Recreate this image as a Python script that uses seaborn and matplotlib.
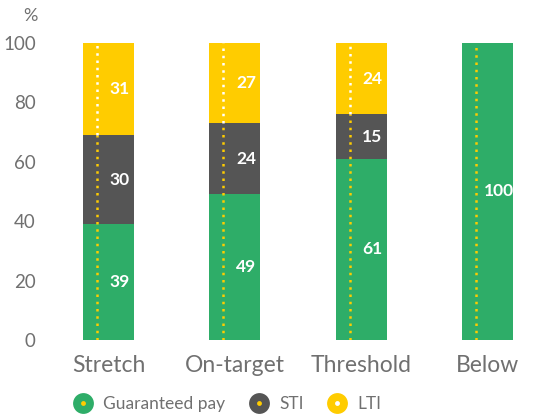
import matplotlib
matplotlib.use("Agg")
import matplotlib.pyplot as plt
from matplotlib.lines import Line2D
from matplotlib.legend_handler import HandlerTuple
import seaborn as sns
import numpy as np

categories = ["Stretch", "On-target", "Threshold", "Below"]
guaranteed = [39, 49, 61, 100]
sti = [30, 24, 15, 0]
lti = [31, 27, 24, 0]
yticks = [0, 20, 40, 60, 80, 100]

GREEN = "#2EAD68"
GREY = "#555555"
YELLOW = "#FFCC00"
TEXT = "#707070"

sns.set_theme(style="white")
plt.rcParams["font.family"] = ["Lato", "DejaVu Sans"]

fig = plt.figure(figsize=(5.33, 4.16), dpi=100)
ax = fig.add_axes([45.5 / 533, (416 - 340) / 416, 505 / 533, (340 - 43) / 416])

g = np.array(guaranteed, float)
s = np.array(sti, float)
l = np.array(lti, float)

sns.barplot(x=categories, y=g, color=GREEN, width=0.405, ax=ax, saturation=1, linewidth=0)
sns.barplot(x=categories, y=s, bottom=g, color=GREY, width=0.405, ax=ax, saturation=1, linewidth=0)
sns.barplot(x=categories, y=l, bottom=g + s, color=YELLOW, width=0.405, ax=ax, saturation=1, linewidth=0)

for i in range(len(categories)):
    xd = i - 0.092
    top_ys = g[i] + s[i]
    ax.plot([xd, xd], [0, top_ys], color=YELLOW, lw=1.8, linestyle=(0, (1.0, 1.9)), dash_capstyle="butt", zorder=5)
    if l[i] > 0:
        ax.plot([xd, xd], [top_ys, top_ys + l[i]], color="white", lw=1.8, linestyle=(0, (1.0, 1.9)), dash_capstyle="butt", zorder=5)
    xl = i + 0.09
    for bottom, val in [(0, g[i]), (g[i], s[i]), (g[i] + s[i], l[i])]:
        if val > 0:
            ax.text(xl, bottom + val / 2, f"{int(val)}", color="white", ha="center", va="center",
                    fontsize=12.5, fontweight="bold", zorder=6)

ax.set_xlim(-0.5, 3.5)
ax.set_ylim(0, 100)
ax.set_yticks(yticks)
ax.set_yticklabels([str(t) for t in yticks])
for sp in ax.spines.values():
    sp.set_visible(False)
ax.tick_params(axis="y", length=0, pad=7, labelsize=13.5, labelcolor=TEXT)
ax.tick_params(axis="x", length=0, pad=11, labelsize=16.5, labelcolor=TEXT)
ax.text(-0.015, 1.09, "%", transform=ax.transAxes, ha="right", va="center", fontsize=13, color=TEXT)
ax.set_ylabel("")
ax.set_xlabel("")

handles = []
for c, dot in [(GREEN, YELLOW), (GREY, YELLOW), (YELLOW, "white")]:
    big = Line2D([], [], marker="o", linestyle="none", markersize=15, markerfacecolor=c, markeredgewidth=0)
    small = Line2D([], [], marker="o", linestyle="none", markersize=3.5, markerfacecolor=dot, markeredgewidth=0)
    handles.append((big, small))
leg = fig.legend(handles, ["Guaranteed pay", "STI", "LTI"], handler_map={tuple: HandlerTuple(ndivide=1, pad=0)},
                 loc="center left", bbox_to_anchor=(57 / 533, 1 - 404 / 416), ncol=3, frameon=False,
                 labelcolor=TEXT, handlelength=1.2, handletextpad=0.55, columnspacing=1.35,
                 prop={"size": 12.5})

fig.savefig("out.png", dpi=100)
